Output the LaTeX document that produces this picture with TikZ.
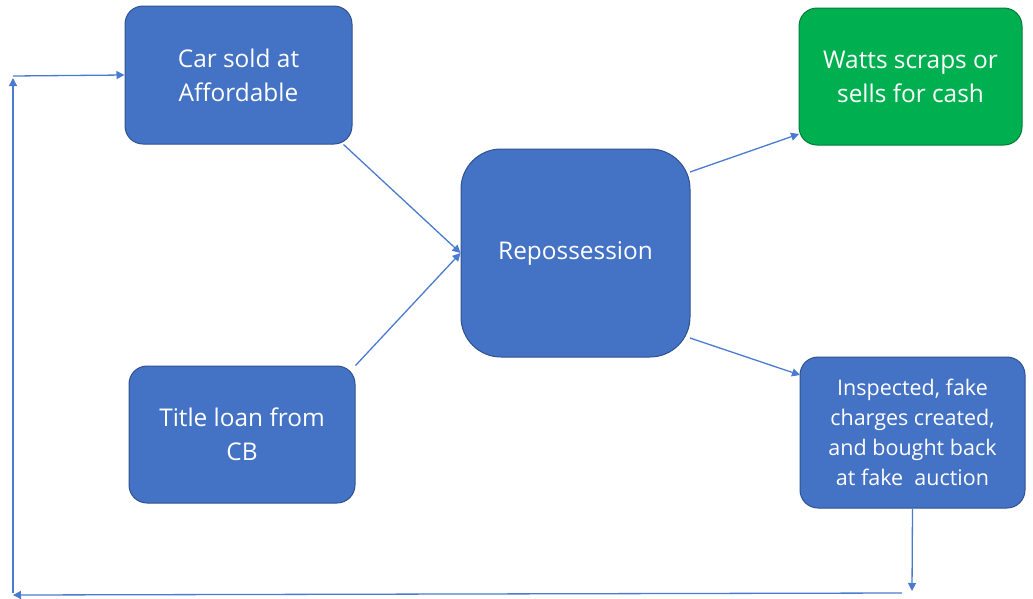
\documentclass[tikz,border=0pt]{standalone}
\usepackage{fontspec}
\setmainfont{Open Sans}
\usetikzlibrary{arrows.meta}
\definecolor{boxblue}{HTML}{4472C4}
\definecolor{boxedge}{HTML}{2F528F}
\definecolor{boxgreen}{HTML}{00B050}
\definecolor{arrowblue}{HTML}{4A7BD0}
\tikzset{
  flowbox/.style={draw=boxedge, line width=1pt, fill=boxblue, rounded corners=18pt,
    text=white, align=center, inner sep=0pt, font=\fontsize{24.4}{34}\selectfont},
  conn/.style={draw=arrowblue, line width=1.3pt, -{Triangle[length=8pt,width=8pt]}},
}
\begin{document}
\begin{tikzpicture}[x=1pt,y=-1pt]
\useasboundingbox (0,0) rectangle (1033,598);
\node[flowbox, minimum width=227pt, minimum height=138pt] (car) at (238.5,75) {Car sold at\\Affordable};
\node[flowbox, minimum width=226pt, minimum height=137pt] (title) at (242,434.5) {Title loan from\\CB};
\node[flowbox, minimum width=229pt, minimum height=208pt, rounded corners=40pt] (repo) at (575.5,253) {Repossession};
\node[flowbox, fill=boxgreen, draw=boxgreen!70!black, minimum width=223pt, minimum height=137pt] (watts) at (910.5,76.5) {Watts scraps or\\sells for cash};
\node[flowbox, minimum width=225pt, minimum height=151pt, font=\fontsize{21.5}{30}\selectfont] (insp) at (912.5,432.5) {Inspected, fake\\charges created,\\and bought back\\at fake\ \ auction};
\coordinate (c1) at (912,591);
\coordinate (c2) at (902,593);
\coordinate (c3) at (13,595);
\coordinate (c4) at (13,593);
\coordinate (c5) at (13,78);
\coordinate (c6) at (13,76);
\draw[conn] (car.south east) ++(-9,0) -- (repo.west);
\draw[conn] (title.north east) -- (repo.west);
\draw[conn] (690,172) -- (799,134);
\draw[conn] (690,338) -- (800,375);
\draw[conn] (insp.south) -- (c1);
\draw[conn] (c2) -- (c3);
\draw[conn] (c4) -- (c5);
\draw[conn] (c6) -- (car.west);
\end{tikzpicture}
\end{document}
